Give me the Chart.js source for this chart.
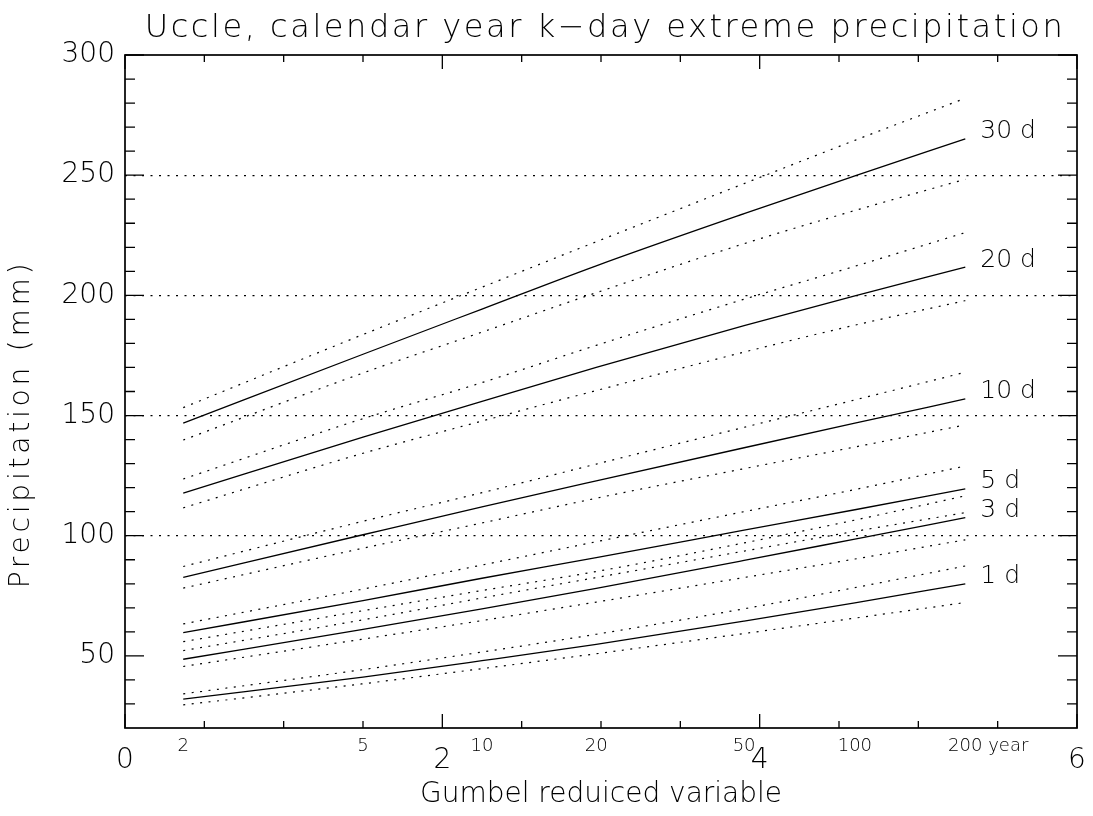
<!DOCTYPE html>
<html>
<head>
<meta charset="utf-8">
<title>Uccle k-day extreme precipitation</title>
<script src="https://cdn.jsdelivr.net/npm/chart.js@4.4.1/dist/chart.umd.min.js"></script>
<style>
  html, body { margin: 0; padding: 0; background: #fff; }
  #wrap { width: 1093px; height: 816px; }
</style>
</head>
<body>
<div id="wrap"><canvas id="chart"></canvas></div>
<script>
// ---- return periods and their Gumbel reduced variate ----
const returnPeriods = ['2', '5', '10', '20', '50', '100', '200 year'];
const gumbelX = [0.367, 1.500, 2.250, 2.970, 3.902, 4.600, 5.296];

// ---- precipitation (mm): estimate, upper and lower bound ----
const d30   = [146.8, 175.5, 194.3, 212.3, 234.0, 249.7, 265.1];
const d30Hi = [153.3, 183.7, 203.4, 222.3, 246.5, 264.5, 282.0];
const d30Lo = [139.8, 167.7, 184.7, 201.1, 221.5, 235.3, 248.3];

const d20   = [117.7, 141.0, 155.9, 170.0, 187.4, 199.8, 211.7];
const d20Hi = [123.6, 148.7, 163.7, 179.2, 198.4, 212.1, 226.1];
const d20Lo = [111.6, 134.3, 147.7, 160.4, 176.4, 187.6, 197.8];

const d10   = [82.7, 100.4, 112.0, 122.8, 136.6, 146.8, 156.9];
const d10Hi = [87.2, 106.0, 117.9, 129.8, 145.1, 156.5, 168.0];
const d10Lo = [78.2, 94.8, 105.3, 115.6, 127.9, 136.9, 146.1];

const d5    = [59.7, 73.0, 82.3, 90.9, 102.3, 110.8, 119.5];
const d5Hi  = [63.3, 77.8, 87.8, 97.5, 110.0, 119.2, 129.0];
const d5Lo  = [55.9, 68.8, 77.2, 85.1, 97.0, 106.5, 116.6];

const d3    = [48.6, 61.0, 69.6, 78.1, 89.7, 98.6, 107.5];
const d3Hi  = [52.2, 65.0, 74.1, 82.6, 93.6, 101.8, 109.6];
const d3Lo  = [45.6, 57.0, 64.7, 72.4, 82.6, 90.3, 98.3];

const d1    = [32.0, 41.2, 48.0, 54.8, 64.5, 72.1, 80.0];
const d1Hi  = [34.2, 44.3, 51.6, 59.0, 69.6, 78.4, 87.4];
const d1Lo  = [29.6, 38.4, 44.7, 50.9, 59.3, 65.7, 72.2];

const seriesNames = ['30 d', '20 d', '10 d', '5 d', '3 d', '1 d'];

const chartTitle = 'Uccle, calendar year k\u2212day extreme precipitation';
const yTitle = 'Precipitation (mm)';
const xTitle = 'Gumbel reduiced variable';

// ---- axes ----
const xMajor = [0, 2, 4, 6];
const xMinor = [0.5, 1, 1.5, 2.5, 3, 3.5, 4.5, 5, 5.5];
const yMajor = [50, 100, 150, 200, 250, 300];
const yMinor = [30, 40, 60, 70, 80, 90, 110, 120, 130, 140, 160, 170, 180, 190,
                210, 220, 230, 240, 260, 270, 280, 290];
const yGrid = [100, 150, 200, 250];

const FONT = "'DejaVu Sans', sans-serif";
const WEIGHT = '200';

const groups = [
  [d30, d30Lo, d30Hi], [d20, d20Lo, d20Hi], [d10, d10Lo, d10Hi],
  [d5, d5Lo, d5Hi], [d3, d3Lo, d3Hi], [d1, d1Lo, d1Hi]
];
const toPts = arr => gumbelX.map((g, i) => ({ x: g, y: arr[i] }));

const datasets = [];
groups.forEach(([mid, lo, hi], i) => {
  const base = { pointRadius: 0, borderColor: '#000', fill: false, cubicInterpolationMode: 'monotone' };
  datasets.push({ ...base, label: seriesNames[i] + ' upper', data: toPts(hi), borderWidth: 1.2, borderDash: [2, 6.5] });
  datasets.push({ ...base, label: seriesNames[i], data: toPts(mid), borderWidth: 1.3, isMain: true });
  datasets.push({ ...base, label: seriesNames[i] + ' lower', data: toPts(lo), borderWidth: 1.2, borderDash: [2, 6.5] });
});

// frame with inward ticks, titles, return period labels and series labels
const decorations = {
  id: 'decorations',
  afterDraw(chart) {
    const { ctx, chartArea: a, scales: { x, y } } = chart;
    ctx.save();
    ctx.strokeStyle = '#000';
    ctx.lineWidth = 1.7;
    ctx.strokeRect(a.left, a.top, a.right - a.left, a.bottom - a.top);

    ctx.lineWidth = 1.3;
    ctx.beginPath();
    const xTick = (v, len) => {
      const px = x.getPixelForValue(v);
      ctx.moveTo(px, a.bottom); ctx.lineTo(px, a.bottom - len);
      ctx.moveTo(px, a.top); ctx.lineTo(px, a.top + len);
    };
    const yTick = (v, len) => {
      const py = y.getPixelForValue(v);
      ctx.moveTo(a.left, py); ctx.lineTo(a.left + len, py);
      ctx.moveTo(a.right, py); ctx.lineTo(a.right - len, py);
    };
    xMajor.forEach(v => xTick(v, 14));
    xMinor.forEach(v => xTick(v, 7));
    yMajor.forEach(v => yTick(v, 19));
    yMinor.forEach(v => yTick(v, 10));
    ctx.stroke();

    ctx.fillStyle = '#000';
    ctx.textBaseline = 'middle';

    // chart title (wide letter spacing like the plotter font)
    ctx.font = `${WEIGHT} 32px ${FONT}`;
    ctx.letterSpacing = '2.55px';
    ctx.textAlign = 'center';
    ctx.fillText(chartTitle, (a.left + a.right) / 2 + 4, 29);

    // y axis title
    ctx.save();
    ctx.font = `${WEIGHT} 28px ${FONT}`;
    ctx.letterSpacing = '3.8px';
    ctx.translate(22, 424);
    ctx.rotate(-Math.PI / 2);
    ctx.fillText(yTitle, 0, 0);
    ctx.restore();
    ctx.letterSpacing = '0px';

    // return period labels under the axis
    ctx.font = `${WEIGHT} 18px ${FONT}`;
    returnPeriods.forEach((lab, i) => {
      const px = x.getPixelForValue(gumbelX[i]);
      const w = ctx.measureText(lab.split(' ')[0]).width;
      ctx.textAlign = 'left';
      ctx.fillText(lab, px - w / 2, a.bottom + 18);
    });

    // series names at line ends
    ctx.font = `${WEIGHT} 25px ${FONT}`;
    ctx.textAlign = 'left';
    chart.data.datasets.forEach((ds, i) => {
      if (!ds.isMain) return;
      const meta = chart.getDatasetMeta(i);
      const last = meta.data[meta.data.length - 1];
      ctx.fillText(ds.label, last.x + 15, last.y - 7);
    });
    ctx.restore();
  }
};

new Chart(document.getElementById('chart'), {
  type: 'line',
  data: { datasets },
  plugins: [decorations],
  options: {
    responsive: true,
    maintainAspectRatio: false,
    animation: false,
    layout: { padding: { left: 0, right: 16, top: 55, bottom: 0 } },
    plugins: {
      legend: { display: false },
      tooltip: { enabled: false },
      title: { display: false }
    },
    scales: {
      x: {
        type: 'linear',
        min: 0, max: 6,
        afterBuildTicks: s => { s.ticks = xMajor.map(v => ({ value: v })); },
        afterFit: s => { s.height = 88; s.paddingLeft = 0; s.paddingRight = 0; },
        grid: { display: false, drawTicks: false },
        border: { display: false },
        ticks: { padding: 16, maxRotation: 0, autoSkip: false, color: '#000',
                 font: { family: FONT, size: 28, weight: WEIGHT } },
        title: { display: true, text: xTitle, color: '#000',
                 font: { family: FONT, size: 28, weight: WEIGHT }, padding: 4 }
      },
      y: {
        min: 20, max: 300,
        afterBuildTicks: s => { s.ticks = yMajor.map(v => ({ value: v })); },
        afterFit: s => { s.width = 125; },
        grid: {
          drawTicks: false,
          lineWidth: 1.2,
          color: c => (c.tick && yGrid.includes(c.tick.value)) ? '#000' : 'rgba(0,0,0,0)'
        },
        border: { display: false, dash: [2, 6.5] },
        ticks: { padding: 10, color: '#000', font: { family: FONT, size: 28, weight: WEIGHT } }
      }
    }
  }
});
</script>
</body>
</html>
